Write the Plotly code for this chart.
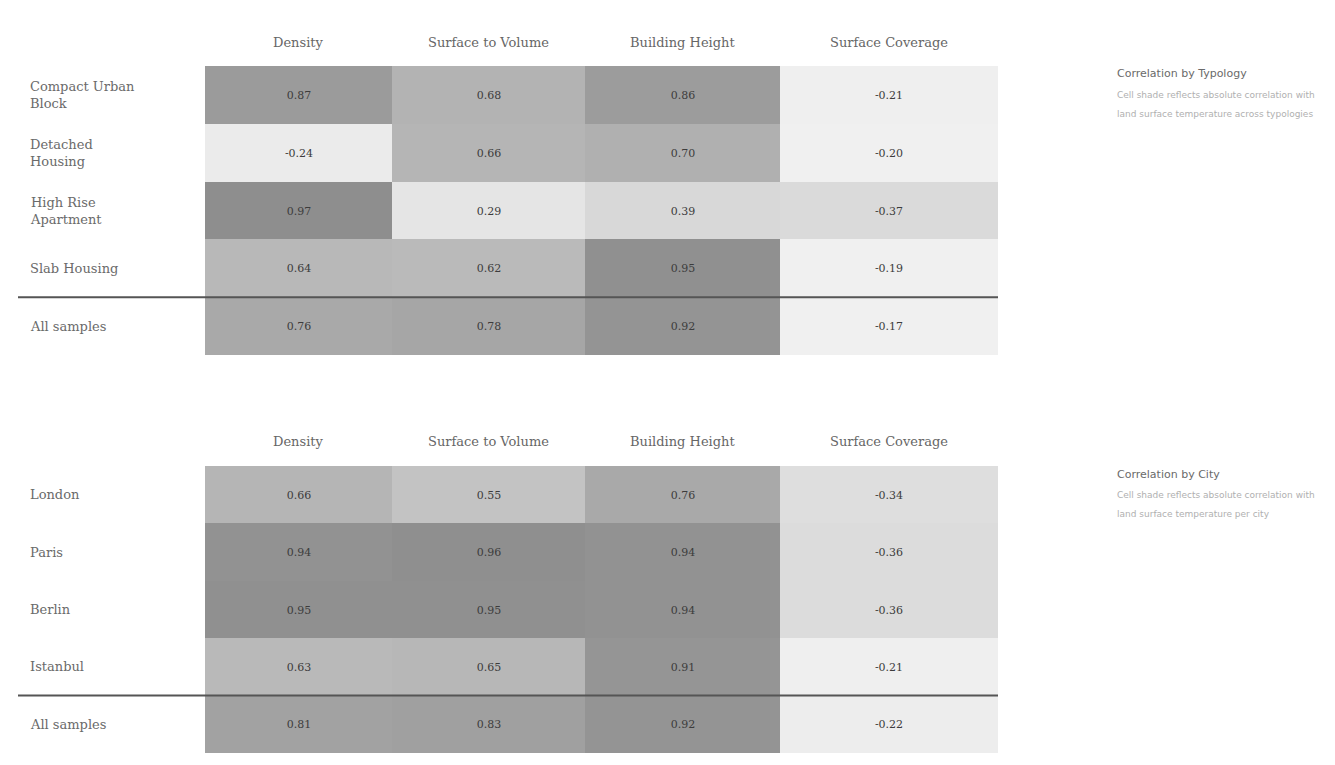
import plotly.graph_objects as go

# Correlation of urban form metrics with surface temperature
metrics = ["Density", "Surface to Volume", "Building Height", "Surface Coverage"]

typologies = ["Compact Urban<br>Block", "Detached<br>Housing", "High Rise<br>Apartment",
              "Slab Housing", "All samples"]
typology_values = [
    [0.87, 0.68, 0.86, -0.21],
    [-0.24, 0.66, 0.70, -0.20],
    [0.97, 0.29, 0.39, -0.37],
    [0.64, 0.62, 0.95, -0.19],
    [0.76, 0.78, 0.92, -0.17],
]

cities = ["London", "Paris", "Berlin", "Istanbul", "All samples"]
city_values = [
    [0.66, 0.55, 0.76, -0.34],
    [0.94, 0.96, 0.94, -0.36],
    [0.95, 0.95, 0.94, -0.36],
    [0.63, 0.65, 0.91, -0.21],
    [0.81, 0.83, 0.92, -0.22],
]

side_notes = [
    ("Correlation by Typology",
     ["Cell shade reflects absolute correlation with",
      "land surface temperature across typologies"]),
    ("Correlation by City",
     ["Cell shade reflects absolute correlation with",
      "land surface temperature per city"]),
]

# ---- layout constants (pixels) ----
W, H = 1335, 765
col_edges = [0, 187, 380, 575, 793]      # column widths of the table
table_left, table_right = 205, 998
panels = [(66, 355), (466, 753)]          # top/bottom pixel rows of each table
header_gap = 24
label_x = 28
rule_left = 18
grey_scale = [[0.0, "#f0f0f0"], [1.0, "#8a8a8a"]]
serif = "DejaVu Serif"

fig = go.Figure()
mids = [(col_edges[i] + col_edges[i + 1]) / 2 for i in range(len(metrics))]

for k, (rows, vals) in enumerate([(typologies, typology_values), (cities, city_values)]):
    xa = "x" if k == 0 else "x2"
    ya = "y" if k == 0 else "y2"
    n = len(rows)
    fig.add_trace(go.Heatmap(
        x=col_edges,
        y=list(range(n + 1)),
        z=[[abs(v) for v in r] for r in vals],
        text=[[f"{v:.2f}" for v in r] for r in vals],
        texttemplate="%{text}",
        textfont=dict(family=serif, size=11, color="#3c3c3c"),
        colorscale=grey_scale, zmin=0.2, zmax=1.0,
        showscale=False, hoverinfo="skip",
        xaxis=xa, yaxis=ya,
    ))
    top_px, bot_px = panels[k]
    # column headers
    for m, name in zip(mids, metrics):
        fig.add_annotation(x=m, xref=xa, y=1 - (top_px - header_gap) / H, yref="paper",
                           text=name, showarrow=False, xanchor="center", yanchor="middle",
                           font=dict(family=serif, size=13, color="#666666"))
    # row labels
    for i, name in enumerate(rows):
        fig.add_annotation(x=label_x / W, xref="paper", y=i + 0.5, yref=ya, text=name,
                           showarrow=False, xanchor="left", yanchor="middle", align="left",
                           font=dict(family=serif, size=13, color="#6a6a6a"))
    # rule above the pooled row
    fig.add_shape(type="line", xref="paper", x0=rule_left / W, x1=table_right / W,
                  yref=ya, y0=n - 1, y1=n - 1, line=dict(color="#555555", width=2))
    # side note
    title, lines = side_notes[k]
    base = top_px + 8
    fig.add_annotation(x=1115 / W, xref="paper", y=1 - base / H, yref="paper", text=title,
                       showarrow=False, xanchor="left", yanchor="middle",
                       font=dict(family="DejaVu Sans", size=11, color="#6a6a6a"))
    for j, line in enumerate(lines):
        fig.add_annotation(x=1115 / W, xref="paper", y=1 - (base + 21 + 19 * j) / H,
                           yref="paper", text=line, showarrow=False,
                           xanchor="left", yanchor="middle",
                           font=dict(family="DejaVu Sans", size=9, color="#b0b0b0"))

axis_common = dict(showgrid=False, zeroline=False, showticklabels=False, ticks="",
                   showline=False, fixedrange=True)
xdom = [table_left / W, table_right / W]
fig.update_layout(
    width=W, height=H,
    margin=dict(l=0, r=0, t=0, b=0),
    paper_bgcolor="white", plot_bgcolor="white",
    xaxis=dict(domain=xdom, range=[col_edges[0], col_edges[-1]], anchor="y", **axis_common),
    yaxis=dict(domain=[1 - panels[0][1] / H, 1 - panels[0][0] / H],
               range=[len(typologies), 0], anchor="x", **axis_common),
    xaxis2=dict(domain=xdom, range=[col_edges[0], col_edges[-1]], anchor="y2", **axis_common),
    yaxis2=dict(domain=[1 - panels[1][1] / H, 1 - panels[1][0] / H],
                range=[len(cities), 0], anchor="x2", **axis_common),
    showlegend=False,
)

fig.write_html("out.html")
